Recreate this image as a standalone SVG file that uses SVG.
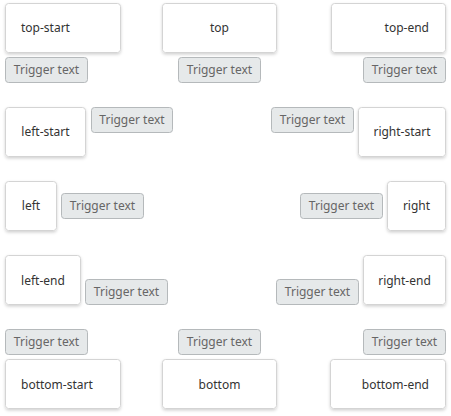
<svg xmlns="http://www.w3.org/2000/svg" width="451" height="416" viewBox="0 0 451 416">
<defs>
<filter id="sh" x="-10%" y="-10%" width="120%" height="130%">
<feDropShadow dx="0" dy="1.5" stdDeviation="1.5" flood-color="#000" flood-opacity="0.18"/>
</filter>
</defs>
<style>
.box{fill:#fff;stroke:#d4d4d4;stroke-width:1;filter:url(#sh)}
.lbl{font-family:"Noto Sans","Open Sans",sans-serif;font-size:12px;fill:#333}
.trg{fill:#e6e9ea;stroke:#b5b9bb;stroke-width:1}
.tt{font-family:"Noto Sans","Open Sans",sans-serif;font-size:12px;fill:#666;text-anchor:middle}
.c{text-anchor:middle}.s{text-anchor:start}.e{text-anchor:end}
</style>
<rect width="451" height="416" fill="#fff"/>
<g id="connectors"></g>
<g id="top-start"><rect class="box" x="5.5" y="3.5" width="115" height="49" rx="3"/><text class="lbl s" x="21" y="32">top-start</text>
<rect class="trg" x="5.5" y="57.5" width="82" height="25" rx="3"/><text class="tt" x="46.5" y="74">Trigger text</text></g>
<g id="top"><rect class="box" x="162.5" y="3.5" width="114" height="49" rx="3"/><text class="lbl c" x="219.5" y="32">top</text>
<rect class="trg" x="178.5" y="57.5" width="82" height="25" rx="3"/><text class="tt" x="219.5" y="74">Trigger text</text></g>
<g id="top-end"><rect class="box" x="331.5" y="3.5" width="114" height="49" rx="3"/><text class="lbl e" x="429" y="32">top-end</text>
<rect class="trg" x="363.5" y="57.5" width="82" height="25" rx="3"/><text class="tt" x="404.5" y="74">Trigger text</text></g>
<g id="left-start"><rect class="box" x="5.5" y="107.5" width="80" height="49" rx="3"/><text class="lbl c" x="45.5" y="136">left-start</text>
<rect class="trg" x="91.5" y="107.5" width="81" height="25" rx="3"/><text class="tt" x="132" y="124">Trigger text</text></g>
<g id="left"><rect class="box" x="5.5" y="181.5" width="51" height="49" rx="3"/><text class="lbl c" x="31" y="210">left</text>
<rect class="trg" x="61.5" y="193.5" width="82" height="25" rx="3"/><text class="tt" x="102.5" y="210">Trigger text</text></g>
<g id="left-end"><rect class="box" x="5.5" y="255.5" width="75" height="49" rx="3"/><text class="lbl c" x="43" y="285">left-end</text>
<rect class="trg" x="85.5" y="279.5" width="82" height="25" rx="3"/><text class="tt" x="126.5" y="296">Trigger text</text></g>
<g id="right-start"><rect class="box" x="358.5" y="107.5" width="87" height="49" rx="3"/><text class="lbl c" x="402" y="136">right-start</text>
<rect class="trg" x="271.5" y="107.5" width="82" height="25" rx="3"/><text class="tt" x="312.5" y="124">Trigger text</text></g>
<g id="right"><rect class="box" x="387.5" y="181.5" width="58" height="49" rx="3"/><text class="lbl c" x="416.5" y="210">right</text>
<rect class="trg" x="300.5" y="193.5" width="82" height="25" rx="3"/><text class="tt" x="341.5" y="210">Trigger text</text></g>
<g id="right-end"><rect class="box" x="363.5" y="255.5" width="82" height="49" rx="3"/><text class="lbl c" x="404.5" y="285">right-end</text>
<rect class="trg" x="276.5" y="279.5" width="82" height="25" rx="3"/><text class="tt" x="317.5" y="296">Trigger text</text></g>
<g id="bottom-start"><rect class="box" x="5.5" y="359.5" width="115" height="49" rx="3"/><text class="lbl s" x="21" y="389">bottom-start</text>
<rect class="trg" x="5.5" y="329.5" width="82" height="25" rx="3"/><text class="tt" x="46.5" y="346">Trigger text</text></g>
<g id="bottom"><rect class="box" x="162.5" y="359.5" width="114" height="49" rx="3"/><text class="lbl c" x="219.5" y="389">bottom</text>
<rect class="trg" x="178.5" y="329.5" width="82" height="25" rx="3"/><text class="tt" x="219.5" y="346">Trigger text</text></g>
<g id="bottom-end"><rect class="box" x="330.5" y="359.5" width="115" height="49" rx="3"/><text class="lbl e" x="429" y="389">bottom-end</text>
<rect class="trg" x="363.5" y="329.5" width="82" height="25" rx="3"/><text class="tt" x="404.5" y="346">Trigger text</text></g>
</svg>
